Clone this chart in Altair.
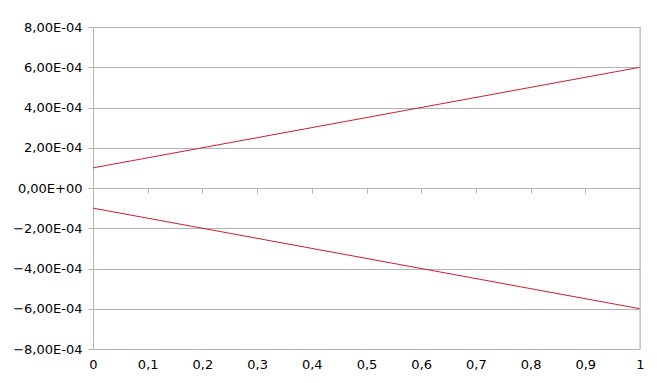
import altair as alt
import pandas as pd

x_vals = [0, 1]
upper = [1.0e-4, 6.0e-4]
lower = [-1.0e-4, -6.0e-4]
y_ticks = [-8e-4, -6e-4, -4e-4, -2e-4, 0, 2e-4, 4e-4, 6e-4, 8e-4]
x_ticks = [0, 0.1, 0.2, 0.3, 0.4, 0.5, 0.6, 0.7, 0.8, 0.9, 1]
inner_ticks = [0.1, 0.2, 0.3, 0.4, 0.5, 0.6, 0.7, 0.8, 0.9]

rows = []
for s, vals in (("upper", upper), ("lower", lower)):
    for xv, yv in zip(x_vals, vals):
        rows.append({"series": s, "x": xv, "y": yv})
df = pd.DataFrame(rows)

GRAY = "#b3b3b3"
FONT = "DejaVu Sans"

xscale = alt.Scale(domain=[0, 1], nice=False, zero=False)
yscale = alt.Scale(domain=[-8e-4, 8e-4], nice=False)

label_expr = ("replace(replace(replace(format(datum.value, '.2e'), '.', ','), 'e-', 'E-0'), 'e+', 'E+0')")

lines = alt.Chart(df).mark_line(color="#cc1f2b", strokeWidth=1, clip=True).encode(
    x=alt.X("x:Q", scale=xscale,
            axis=alt.Axis(values=x_ticks, title=None, grid=False, domain=False, ticks=False,
                          labelPadding=9, labelFont=FONT, labelFontSize=13, labelColor="#000000",
                          labelExpr="replace(format(datum.value, '~g'), '.', ',')",
                          labelFlush=False)),
    y=alt.Y("y:Q", scale=yscale,
            axis=alt.Axis(values=y_ticks, title=None, grid=True, gridColor=GRAY,
                          domain=True, domainColor=GRAY, ticks=True, tickColor=GRAY, tickSize=5,
                          labelPadding=6, labelFont=FONT, labelFontSize=13, labelColor="#000000",
                          labelExpr=label_expr)),
    detail="series:N",
)

zero_ticks = alt.Chart(pd.DataFrame({"x": inner_ticks})).mark_point(opacity=0).encode(
    x=alt.X("x:Q", scale=xscale,
            axis=alt.Axis(values=inner_ticks, title=None, grid=False, domain=False, labels=False,
                          ticks=True, tickColor=GRAY, tickSize=5, offset=-161, orient="bottom")),
)

right_border = alt.Chart(pd.DataFrame({"x": [1]})).mark_rule(color=GRAY, strokeWidth=1).encode(
    x=alt.X("x:Q", scale=xscale, axis=None),
)

chart = alt.layer(lines, zero_ticks, right_border).resolve_axis(x="independent").properties(
    width=547, height=322,
    autosize=alt.AutoSizeParams(type="none"),
    padding={"left": 85, "top": 19, "right": 9, "bottom": 26},
).configure_view(stroke=None).configure(background="white")

chart.save("out.html", embed_options={"renderer": "svg", "actions": False})
